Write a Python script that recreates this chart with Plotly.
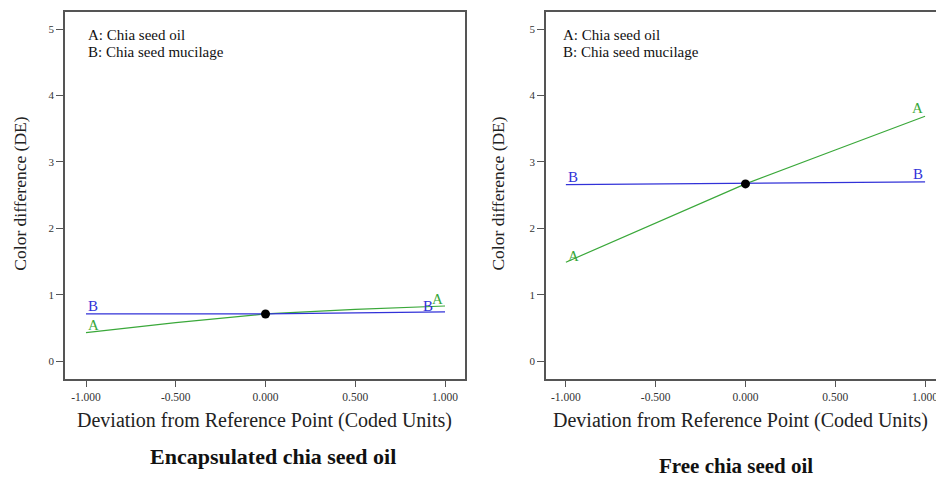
import plotly.graph_objects as go

# ---- data ----
coded_x = [-1.0, -0.5, 0.0, 0.5, 1.0]
enc_A = [0.43, 0.58, 0.71, 0.78, 0.83]   # Encapsulated: Chia seed oil
enc_B = [0.71, 0.71, 0.71, 0.725, 0.74]  # Encapsulated: Chia seed mucilage
free_A = [1.49, 2.08, 2.67, 3.18, 3.69]  # Free: Chia seed oil
free_B = [2.66, 2.67, 2.67, 2.685, 2.70] # Free: Chia seed mucilage
x_ticks = [-1.0, -0.5, 0.0, 0.5, 1.0]
x_tick_text = ["-1.000", "-0.500", "0.000", "0.500", "1.000"]
y_ticks = [0, 1, 2, 3, 4, 5]
panel_titles = ["Encapsulated chia seed oil", "Free chia seed oil"]
legend_lines = ["A: Chia seed oil", "B: Chia seed mucilage"]
x_title = "Deviation from Reference Point (Coded Units)"
y_title = "Color difference (DE)"

GREEN = "#3aa83a"
BLUE = "#3232d8"
AX = "#555555"
FONT = "Liberation Serif"

fig = go.Figure()

panels = [("x", "y", enc_A, enc_B), ("x2", "y2", free_A, free_B)]
for xa, ya, A, B in panels:
    fig.add_trace(go.Scatter(x=coded_x, y=A, mode="lines", xaxis=xa, yaxis=ya,
                             line=dict(color=GREEN, width=1.2), showlegend=False))
    fig.add_trace(go.Scatter(x=coded_x, y=B, mode="lines", xaxis=xa, yaxis=ya,
                             line=dict(color=BLUE, width=1.2), showlegend=False))
    fig.add_trace(go.Scatter(x=[coded_x[2]], y=[B[2]], mode="markers", xaxis=xa, yaxis=ya,
                             marker=dict(color="black", size=9), showlegend=False))

common_x = dict(tickvals=x_ticks, ticktext=x_tick_text, ticks="outside", ticklen=6,
                tickcolor=AX, showline=True, linecolor=AX, linewidth=1.5,
                showgrid=False, zeroline=False, ticklabeloverflow="allow", automargin=False,
                tickfont=dict(family=FONT, size=11.5, color="#333"))
common_y = dict(tickvals=y_ticks, ticks="outside", ticklen=7, tickcolor=AX,
                showline=True, linecolor=AX, linewidth=1.5, showgrid=False,
                zeroline=False, range=[-0.27, 5.26], automargin=False,
                tickfont=dict(family=FONT, size=11, color="#333"))

fig.update_layout(
    width=936, height=477,
    margin=dict(l=65, r=0, t=12, b=98, autoexpand=False),
    paper_bgcolor="white", plot_bgcolor="white",
    xaxis=dict(common_x, domain=[0, 0.4592], range=[-1.117, 1.111], mirror=True, anchor="y"),
    yaxis=dict(common_y, domain=[0, 1], mirror=True, anchor="x"),
    xaxis2=dict(common_x, domain=[0.5522, 1.0], range=[-1.111, 1.061], mirror=True, anchor="y2"),
    yaxis2=dict(common_y, domain=[0, 1], mirror=False, anchor="x2"),
)

ann = []
# legend-like text inside each panel
for xr, yr, x0 in [("x", "y", -1.0), ("x2", "y2", -1.03)]:
    for i, t in enumerate(legend_lines):
        ann.append(dict(xref=xr, yref=yr, x=x0, y=4.92 - 0.27 * i, text=t,
                        showarrow=False, xanchor="left", yanchor="middle",
                        font=dict(family=FONT, size=15, color="#111")))

# line-end letter labels
def lbl(xr, yr, x, y, t, col, xanchor, xshift=0, yshift=-2):
    ann.append(dict(xref=xr, yref=yr, x=x, y=y, text=t, showarrow=False,
                    xanchor=xanchor, yanchor="bottom", xshift=xshift, yshift=yshift,
                    font=dict(family=FONT, size=15, color=col)))

lbl("x", "y", coded_x[0], enc_A[0], "A", GREEN, "left")
lbl("x", "y", coded_x[0], enc_B[0], "B", BLUE, "left")
lbl("x", "y", coded_x[-1], enc_A[-1], "A", GREEN, "right", 0, -3)
lbl("x", "y", coded_x[-1], enc_B[-1], "B", BLUE, "right", -10, -4)
lbl("x2", "y2", coded_x[0], free_A[0], "A", GREEN, "left", 0, -4)
lbl("x2", "y2", coded_x[0], free_B[0], "B", BLUE, "left")
lbl("x2", "y2", coded_x[-1], free_A[-1], "A", GREEN, "right")
lbl("x2", "y2", coded_x[-1], free_B[-1], "B", BLUE, "right")

# axis titles and panel titles
for xc, yt_x, pt_x, pt_y, size, title in [
        (0.2296, -0.0517, 0.2388, -0.2125, 22, panel_titles[0]),
        (0.7755, 0.497, 0.770, -0.237, 21, panel_titles[1])]:
    ann.append(dict(xref="paper", yref="paper", x=xc, y=-0.112, text=x_title,
                    showarrow=False, xanchor="center", yanchor="middle",
                    font=dict(family=FONT, size=20, color="#222")))
    ann.append(dict(xref="paper", yref="paper", x=yt_x, y=0.505, text=y_title,
                    showarrow=False, xanchor="center", yanchor="middle", textangle=-90,
                    font=dict(family=FONT, size=17.5, color="#222")))
    ann.append(dict(xref="paper", yref="paper", x=pt_x, y=pt_y,
                    text="<b>" + title + "</b>",
                    showarrow=False, xanchor="center", yanchor="middle",
                    font=dict(family=FONT, size=size, color="#111")))

fig.update_layout(annotations=ann)
fig.write_html("out.html")
